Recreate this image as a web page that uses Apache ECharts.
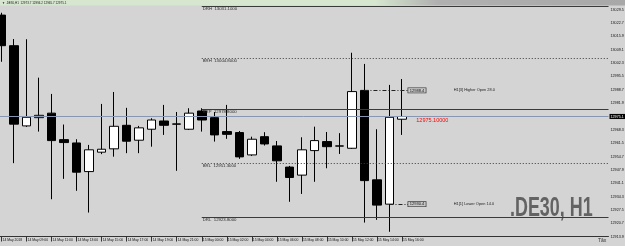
<!DOCTYPE html>
<html><head><meta charset="utf-8">
<script src="https://cdn.jsdelivr.net/npm/echarts@6/dist/echarts.min.js"></script>
<style>html,body{margin:0;padding:0;background:#d4d4d4}#c{width:625px;height:246px}</style>
</head><body><div id="c"></div>
<script>
// ---- data ----
const times = ['14 May 07:00','14 May 08:00','14 May 09:00','14 May 10:00','14 May 11:00','14 May 12:00','14 May 13:00','14 May 14:00','14 May 15:00','14 May 16:00','14 May 17:00','14 May 18:00','14 May 19:00','14 May 20:00','14 May 21:00','14 May 22:00','15 May 00:00','15 May 01:00','15 May 02:00','15 May 03:00','15 May 04:00','15 May 05:00','15 May 06:00','15 May 07:00','15 May 08:00','15 May 09:00','15 May 10:00','15 May 11:00','15 May 12:00','15 May 13:00','15 May 14:00','15 May 15:00','15 May 16:00'];
const opens  = [13026.8,13011.2,12970.3,12974.5,12976.8,12963.3,12961.6,12947.0,12956.9,12958.6,12970.6,12963.0,12968.6,12972.8,12971.3,12968.6,12977.9,12974.5,12967.4,12966.9,12955.5,12964.8,12960.1,12949.3,12945.2,12957.7,12962.3,12960.1,12958.9,12988.4,12942.8,12930.4,12973.7];
const closes = [13011.2,12971.2,12974.7,12975.7,12962.8,12961.8,12946.7,12958.1,12958.4,12970.1,12962.5,12969.3,12973.3,12970.6,12971.2,12976.8,12973.3,12965.7,12966.0,12954.5,12963.5,12961.1,12952.5,12944.0,12958.1,12962.8,12959.7,12960.0,12987.8,12942.4,12929.9,12974.7,12975.1];
const lows   = [13003.0,12951.3,12969.8,12967.4,12932.9,12943.3,12937.2,12926.1,12955.9,12954.6,12956.4,12956.4,12959.7,12965.7,12947.4,12968.2,12967.4,12962.3,12963.7,12953.5,12955.0,12960.3,12941.8,12931.6,12935.6,12941.8,12948.7,12956.0,12958.6,12921.0,12922.4,12916.3,12965.7];
const highs  = [13028.0,13014.6,13014.5,12994.9,12986.6,12971.0,12963.5,12960.6,12981.5,12987.6,12979.5,12970.3,12974.2,12981.0,12977.4,12979.3,12979.3,12977.4,12981.0,12967.7,12964.8,12967.1,12962.6,12949.9,12964.5,12969.9,12967.2,12966.6,13007.6,13001.9,12968.6,12991.2,12994.2];
const tickLabels = ['14 May 2018','14 May 09:00','14 May 11:00','14 May 13:00','14 May 15:00','14 May 17:00','14 May 19:00','14 May 21:00','15 May 00:00','15 May 02:00','15 May 04:00','15 May 06:00','15 May 08:00','15 May 10:00','15 May 12:00','15 May 14:00','15 May 16:00'];
const levelNames  = ['DRH','BRH','BRP','BRL','DRL'];
const levelValues = [13031.1,13004.8,12978.8,12951.3,12923.8];
const h1OpenBars   = [29, 31];
const h1OpenLabels = ['H1[3] Higher Open 28.0','H1[1] Lower Open 14.0'];
const priceMin = 12913.9, priceMax = 13034.5;
const priceStep = priceMin / 1899;
const futureBars = 16;

// ---- build ----
const n = times.length;
const cats = times.slice();
for (let i = 1; i <= futureBars; i++) cats.push('+' + i + 'h');
const total = cats.length;
const candles = opens.map((o, i) => [o, closes[i], lows[i], highs[i]]);
const last = n - 1;
const lastClose = closes[last];
const dayStart = times.indexOf('15 May 00:00');
const showTick = (idx) => idx % 2 === 0 && idx < n;

const levelLines = levelValues.map((v, i) => [
  { coord: [dayStart + 0.5, v],
    lineStyle: { type: (levelNames[i] === 'BRH' || levelNames[i] === 'BRL') ? [1, 2] : 'solid', color: '#3a3a3a', width: 1 },
    label: { show: true, position: 'insideStartBottom', distance: [1, 0.5], formatter: levelNames[i] + '  ' + v.toFixed(4), fontSize: 4.3, color: '#2a2a2a' } },
  { coord: [total, v] }
]);
const h1Lines = h1OpenBars.map((b) => [
  { coord: [b + 0.5, opens[b]],
    lineStyle: { type: [4, 2, 1, 2], color: '#222', width: 1 },
    label: { show: true, position: 'end', distance: 0, formatter: opens[b].toFixed(1), fontSize: 4, color: '#111',
             backgroundColor: '#c8c8c8', borderColor: '#333', borderWidth: 0.7, padding: [0.5, 1.5, 0, 1.5] } },
  { coord: [n, opens[b]] }
]);
const textPoints = h1OpenBars.map((b, i) => ({
  coord: [n + 3.6, opens[b]],
  label: { show: true, position: 'right', distance: 0, formatter: h1OpenLabels[i], fontSize: 3.9, color: '#222' }
}));
textPoints.push({
  coord: [n + 0.6, lastClose],
  label: { show: true, position: 'right', distance: 0, offset: [0, 3.5], formatter: lastClose.toFixed(5), fontSize: 5.5, color: '#ff0000' }
});

const chart = echarts.init(document.getElementById('c'), null, { renderer: 'canvas' });
const lo = candles[last];
chart.setOption({
  animation: false,
  backgroundColor: '#d4d4d4',
  textStyle: { fontFamily: 'Liberation Sans, Arial, sans-serif' },
  grid: { left: -4.75, right: 16.5, top: 0, bottom: 9.5, containLabel: false, outerBoundsMode: 'none' },
  xAxis: [
    { type: 'category', data: cats, boundaryGap: true,
      axisLine: { show: true, lineStyle: { color: '#333', width: 1 } },
      axisTick: { show: true, alignWithLabel: true, interval: showTick, length: 5, lineStyle: { color: '#333' } },
      axisLabel: { interval: showTick, align: 'left', margin: 2, fontSize: 3.4, color: '#111', padding: [0, 0, 0, 1],
                   hideOverlap: false, formatter: (v, idx) => tickLabels[idx / 2] },
      splitLine: { show: false } },
    { type: 'value', min: 0, max: total, show: false, gridIndex: 0 }
  ],
  yAxis: [{
    type: 'value', position: 'right', min: priceMin, max: priceMax, interval: priceStep,
    axisLine: { show: true, lineStyle: { color: '#333', width: 1 } },
    axisTick: { show: true, length: 2, lineStyle: { color: '#333' } },
    axisLabel: { fontSize: 3.7, color: '#111', margin: 2, showMaxLabel: false, formatter: (v) => v.toFixed(1) },
    splitLine: { show: false }
  }],
  series: [
    { type: 'line', xAxisIndex: 1, yAxisIndex: 0, data: [], z: 1,
      markLine: { symbol: ['none', 'none'], silent: true, animation: false, data: levelLines.concat(h1Lines) },
      markPoint: { symbol: 'circle', symbolSize: 1, itemStyle: { color: 'rgba(0,0,0,0)' }, silent: true, data: textPoints } },
    { type: 'candlestick', xAxisIndex: 0, yAxisIndex: 0, data: candles, barWidth: 9, z: 3,
      itemStyle: { color: '#ffffff', color0: '#000000', borderColor: '#000000', borderColor0: '#000000', borderWidth: 1 },
      markLine: { symbol: ['none', 'none'], silent: true, animation: false,
        lineStyle: { color: '#8797b1', width: 1, type: 'solid' },
        data: [{ yAxis: lastClose,
          label: { show: true, position: 'end', distance: 1, formatter: lastClose.toFixed(1), fontSize: 3.7,
                   color: '#fff', backgroundColor: '#000', padding: [0.8, 2, 0.3, 1] } }] } }
  ],
  graphic: [
    { type: 'rect', silent: true, z: 100, shape: { x: 0, y: 0, width: 625, height: 5.5 },
      style: { fill: new echarts.graphic.LinearGradient(0, 0, 1, 0, [
        { offset: 0, color: '#d6e6cf' }, { offset: 0.6, color: '#d6e6cf' }, { offset: 0.7, color: '#b0b0b0' }, { offset: 1, color: '#a8a8a8' }]) } },
    { type: 'text', silent: true, z: 101, x: 2, y: 2.8,
      style: { text: '\u25BC .DE30,H1  ' + lo[0].toFixed(1) + ' ' + lo[3].toFixed(1) + ' ' + lo[2].toFixed(1) + ' ' + lo[1].toFixed(1),
               font: '3px Liberation Sans, DejaVu Sans, sans-serif', fill: '#222', verticalAlign: 'middle' } },
    { type: 'text', silent: true, z: 5, x: 510, y: 208, scaleX: 0.64,
      style: { text: '.DE30, H1', font: 'bold 28px Liberation Sans, Arial, sans-serif', fill: '#636363', verticalAlign: 'middle', align: 'left' } },
    { type: 'text', silent: true, z: 5, x: 598, y: 241,
      style: { text: 'T\u0103x', font: '5px Liberation Sans, sans-serif', fill: '#333', verticalAlign: 'middle' } }
  ]
});
</script></body></html>
